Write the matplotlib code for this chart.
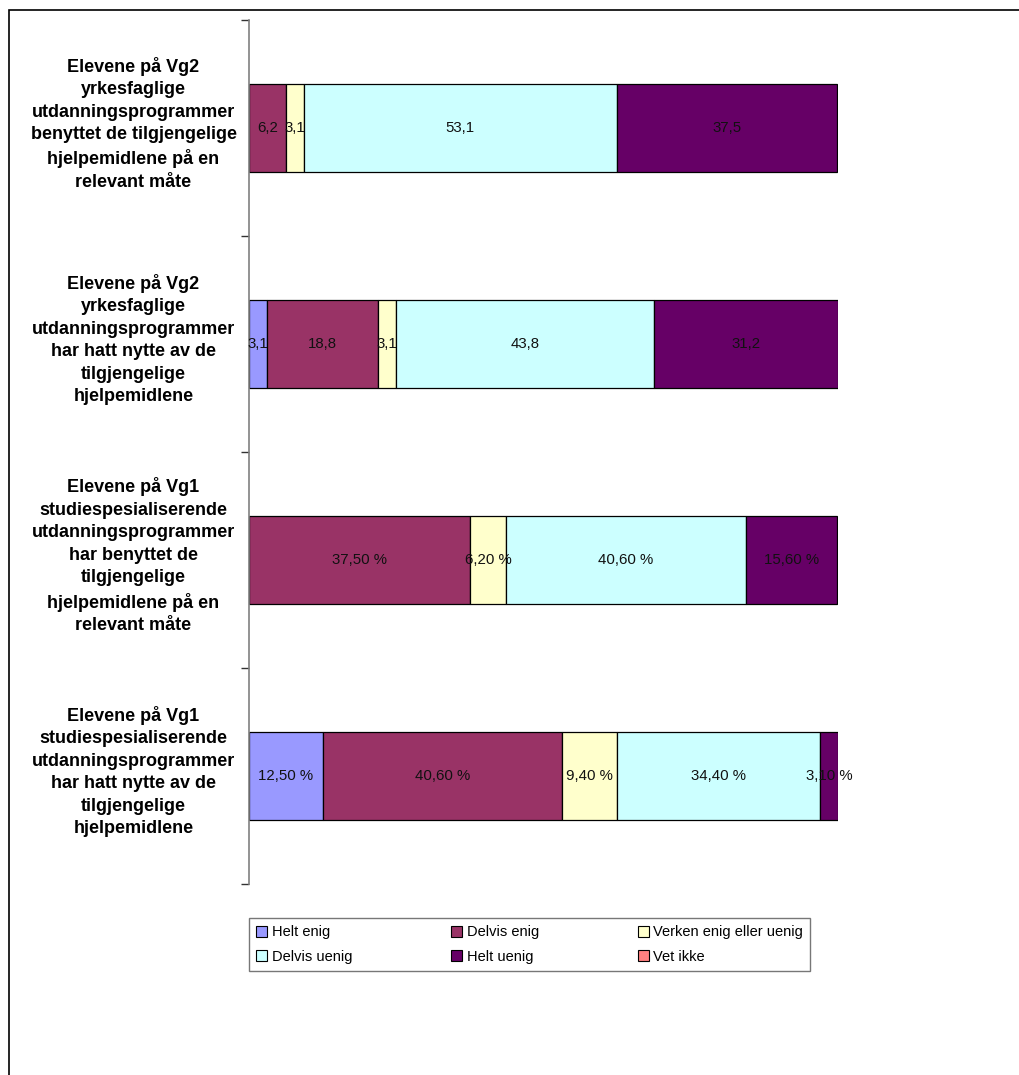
import matplotlib.pyplot as plt
import matplotlib.transforms as mtransforms
from matplotlib.patches import Patch, Rectangle

plt.rcParams['font.family'] = ['Liberation Sans', 'DejaVu Sans']

# rows from top to bottom
questions = [
    'Elevene på Vg2\nyrkesfaglige\nutdanningsprogrammer\nbenyttet de tilgjengelige\nhjelpemidlene på en\nrelevant måte',
    'Elevene på Vg2\nyrkesfaglige\nutdanningsprogrammer\nhar hatt nytte av de\ntilgjengelige\nhjelpemidlene',
    'Elevene på Vg1\nstudiespesialiserende\nutdanningsprogrammer\nhar benyttet de\ntilgjengelige\nhjelpemidlene på en\nrelevant måte',
    'Elevene på Vg1\nstudiespesialiserende\nutdanningsprogrammer\nhar hatt nytte av de\ntilgjengelige\nhjelpemidlene',
]
answers = ['Helt enig', 'Delvis enig', 'Verken enig eller uenig',
           'Delvis uenig', 'Helt uenig', 'Vet ikke']
helt_enig = [0, 3.1, 0, 12.5]
delvis_enig = [6.2, 18.8, 37.5, 40.6]
verken = [3.1, 3.1, 6.2, 9.4]
delvis_uenig = [53.1, 43.8, 40.6, 34.4]
helt_uenig = [37.5, 31.2, 15.6, 3.1]
vet_ikke = [0, 0, 0, 0]
# first two rows labelled as plain numbers, last two as percent
label_fmt = ['{:.1f}', '{:.1f}', '{:.2f} %', '{:.2f} %']

colors = ['#9999FF', '#993366', '#FFFFCC', '#CCFFFF', '#660066', '#FF8080']
series = [helt_enig, delvis_enig, verken, delvis_uenig, helt_uenig, vet_ikke]

fig = plt.figure(figsize=(10.19, 10.75), dpi=100)
ax = fig.add_axes([249/1019, 1-884/1075, 589/1019, 864/1075])

n = len(questions)
ypos = list(range(n))
left = [0.0]*n
for vals, col in zip(series, colors):
    lw = [0.9 if v > 0 else 0 for v in vals]
    ax.barh(ypos, vals, left=left, height=0.41, color=col,
            edgecolor='black', linewidth=lw)
    for i, v in enumerate(vals):
        if v > 0:
            txt = label_fmt[i].format(v).replace('.', ',')
            ax.text(left[i] + v/2, i, txt, ha='center', va='center',
                    fontsize=10.8, color='#111111')
    left = [l + v for l, v in zip(left, vals)]

ax.set_xlim(0, 100)
ax.set_ylim(n - 0.5, -0.5)
ax.set_yticks([i - 0.5 for i in range(n + 1)])
ax.set_yticklabels([])
ax.tick_params(axis='y', direction='out', length=6, width=1, color='#333333')
ax.set_xticks([])
for s in ['top', 'right', 'bottom']:
    ax.spines[s].set_visible(False)
ax.spines['left'].set_color('#808080')
ax.spines['left'].set_linewidth(1.2)

trans = mtransforms.blended_transform_factory(ax.transAxes, ax.transData)
for i, q in enumerate(questions):
    ax.text(-0.196, i - 0.02, q, transform=trans, ha='center', va='center',
            fontsize=13, fontweight='bold', linespacing=1.42)

# legend
handles = [Patch(facecolor=c, edgecolor='black', linewidth=0.8) for c in colors]
order = [0, 3, 1, 4, 2, 5]
leg = fig.legend([handles[k] for k in order], [answers[k] for k in order],
                 ncol=3, loc='upper left',
                 bbox_to_anchor=(249/1019, 1-918/1075),
                 fontsize=10.5, frameon=True, fancybox=False,
                 handlelength=0.75, handleheight=0.75, handletextpad=0.3,
                 columnspacing=6.8, labelspacing=0.72, borderpad=0.5,
                 borderaxespad=0)
leg.get_frame().set_edgecolor('#555555')
leg.get_frame().set_linewidth(1.0)

# outer chart frame (cut off at right and bottom)
fig.patches.append(Rectangle((9/1019, -0.1), 1.1, 1.1 - 10/1075,
                             transform=fig.transFigure, fill=False,
                             edgecolor='black', linewidth=1.2))

fig.savefig('out.png', dpi=100)
